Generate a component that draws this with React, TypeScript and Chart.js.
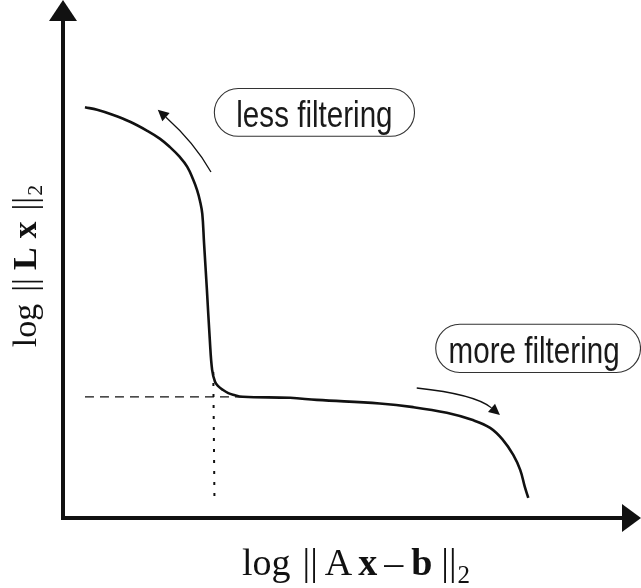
import React, { useEffect, useRef } from 'react';
import { Chart, registerables } from 'chart.js';

Chart.register(...registerables);

// L-curve values (arbitrary log units, axis 0..10)
const curveX = [0.38, 0.59, 0.87, 1.16, 1.45, 1.68, 1.85, 2.02, 2.15, 2.25, 2.32, 2.37, 2.41, 2.44, 2.49, 2.54, 2.58, 2.63, 2.68, 2.77, 2.86, 2.94, 3.11, 3.93, 4.39, 5.48, 6.06, 6.64, 7.09, 7.39, 7.61, 7.79, 7.91, 7.99, 8.05];
const curveY = [7.93, 7.88, 7.78, 7.65, 7.48, 7.32, 7.16, 6.97, 6.78, 6.54, 6.33, 6.12, 5.87, 5.31, 4.40, 3.44, 2.86, 2.63, 2.55, 2.47, 2.41, 2.38, 2.34, 2.32, 2.28, 2.21, 2.14, 2.03, 1.89, 1.74, 1.51, 1.22, 0.93, 0.60, 0.39];
// corner guide lines
const dashX = [0.38, 3.11];
const dashY = [2.34, 2.34];
const dotX = [2.6, 2.62];
const dotY = [2.82, 0.40];
// annotations
const labelTexts = ['less filtering', 'more filtering'];
const labelBoxX = [[2.61, 6.09], [6.44, 10.0]];
const labelBoxY = [[8.30, 7.36], [3.75, 2.80]];
// curved arrows: [start, control, tip]
const arrowX = [[2.56, 2.28, 1.64], [6.12, 7.13, 7.56]];
const arrowY = [[6.68, 7.24, 7.88], [2.51, 2.39, 1.99]];
const xAxisRange = [0, 10];
const yAxisRange = [0, 10];

type Seg = { t: string; font: string; gap: number; dy?: number };

const serif = '"Liberation Serif", "Times New Roman", serif';
const xLabelSegs: Seg[] = [
  { t: 'log', font: `38px ${serif}`, gap: 0 },
  { t: '||', font: `38px ${serif}`, gap: 12 },
  { t: 'A', font: `38px ${serif}`, gap: 7 },
  { t: 'x', font: `bold 38px ${serif}`, gap: 6 },
  { t: '\u2013', font: `38px ${serif}`, gap: 7 },
  { t: 'b', font: `bold 38px ${serif}`, gap: 8 },
  { t: '||', font: `38px ${serif}`, gap: 9 },
  { t: '2', font: `25px ${serif}`, gap: 1, dy: 8 },
];
const yLabelSegs: Seg[] = [
  { t: 'log', font: `34px ${serif}`, gap: 0 },
  { t: '||', font: `34px ${serif}`, gap: 12 },
  { t: 'L', font: `bold 34px ${serif}`, gap: 8 },
  { t: 'x', font: `bold 34px ${serif}`, gap: 9 },
  { t: '||', font: `34px ${serif}`, gap: 11 },
  { t: '2', font: `22px ${serif}`, gap: 1, dy: 6 },
];

function drawSegs(ctx: CanvasRenderingContext2D, segs: Seg[], cx: number, baseY: number) {
  let total = 0;
  const widths = segs.map((s) => {
    ctx.font = s.font;
    const w = ctx.measureText(s.t).width;
    total += w + s.gap;
    return w;
  });
  let x = cx - total / 2;
  ctx.textAlign = 'left';
  ctx.textBaseline = 'alphabetic';
  segs.forEach((s, i) => {
    x += s.gap;
    ctx.font = s.font;
    ctx.fillText(s.t, x, baseY + (s.dy || 0));
    x += widths[i];
  });
}

function roundRect(ctx: CanvasRenderingContext2D, x0: number, y0: number, x1: number, y1: number) {
  const r = (y1 - y0) / 2;
  ctx.beginPath();
  ctx.moveTo(x0 + r, y0);
  ctx.lineTo(x1 - r, y0);
  ctx.arc(x1 - r, y0 + r, r, -Math.PI / 2, Math.PI / 2);
  ctx.lineTo(x0 + r, y1);
  ctx.arc(x0 + r, y0 + r, r, Math.PI / 2, (3 * Math.PI) / 2);
  ctx.closePath();
}

const decorPlugin = {
  id: 'decor',
  afterDraw(chart: any) {
    const ctx: CanvasRenderingContext2D = chart.ctx;
    const xs = chart.scales.x;
    const ys = chart.scales.y;
    const px = (v: number) => xs.getPixelForValue(v);
    const py = (v: number) => ys.getPixelForValue(v);
    const ox = px(xAxisRange[0]);
    const oy = py(yAxisRange[0]);
    const topY = py(yAxisRange[1]);
    const rightX = px(xAxisRange[1]);
    ctx.save();
    // axes
    ctx.strokeStyle = '#111';
    ctx.fillStyle = '#111';
    ctx.lineWidth = 4;
    ctx.beginPath();
    ctx.moveTo(ox, oy + 2);
    ctx.lineTo(ox, topY + 18);
    ctx.moveTo(ox - 2, oy);
    ctx.lineTo(rightX - 16, oy);
    ctx.stroke();
    ctx.beginPath();
    ctx.moveTo(ox, topY);
    ctx.lineTo(ox - 14, topY + 21);
    ctx.lineTo(ox + 14, topY + 21);
    ctx.closePath();
    ctx.fill();
    ctx.beginPath();
    ctx.moveTo(rightX, oy);
    ctx.lineTo(rightX - 19, oy - 14);
    ctx.lineTo(rightX - 19, oy + 14);
    ctx.closePath();
    ctx.fill();

    // curved arrows
    ctx.lineWidth = 1.3;
    for (let i = 0; i < arrowX.length; i++) {
      const p0 = [px(arrowX[i][0]), py(arrowY[i][0])];
      const c = [px(arrowX[i][1]), py(arrowY[i][1])];
      const p2 = [px(arrowX[i][2]), py(arrowY[i][2])];
      const ang = Math.atan2(p2[1] - c[1], p2[0] - c[0]);
      const hl = 11;
      const hw = 5.5;
      const bx = p2[0] - hl * Math.cos(ang);
      const by = p2[1] - hl * Math.sin(ang);
      ctx.beginPath();
      ctx.moveTo(p0[0], p0[1]);
      ctx.quadraticCurveTo(c[0], c[1], bx, by);
      ctx.stroke();
      ctx.beginPath();
      ctx.moveTo(p2[0], p2[1]);
      ctx.lineTo(bx + hw * Math.sin(ang), by - hw * Math.cos(ang));
      ctx.lineTo(bx - hw * Math.sin(ang), by + hw * Math.cos(ang));
      ctx.closePath();
      ctx.fill();
    }

    // label boxes
    for (let i = 0; i < labelTexts.length; i++) {
      const x0 = px(labelBoxX[i][0]);
      const x1 = px(labelBoxX[i][1]);
      const y0 = py(labelBoxY[i][0]);
      const y1 = py(labelBoxY[i][1]);
      roundRect(ctx, x0 + 0.5, y0 + 0.5, x1 - 0.5, y1 - 0.5);
      ctx.strokeStyle = '#333';
      ctx.lineWidth = 1.1;
      ctx.stroke();
      ctx.save();
      ctx.fillStyle = '#1a1a1a';
      ctx.font = '37px "Liberation Sans", Arial, sans-serif';
      ctx.textAlign = 'center';
      ctx.textBaseline = 'alphabetic';
      const cx = (x0 + x1) / 2 + (i === 1 ? -4 : 0);
      const base = y1 - 10;
      ctx.translate(cx, base);
      ctx.scale(0.8, 1);
      ctx.fillText(labelTexts[i], 0, 0);
      ctx.restore();
    }

    // axis titles
    ctx.fillStyle = '#111';
    drawSegs(ctx, xLabelSegs, (ox + rightX) / 2 + 4, oy + 57);
    ctx.save();
    ctx.translate(ox - 27, topY + 266);
    ctx.rotate(-Math.PI / 2);
    drawSegs(ctx, yLabelSegs, 0, 0);
    ctx.restore();
    ctx.restore();
  },
};

export default function App() {
  const ref = useRef<HTMLCanvasElement>(null);
  useEffect(() => {
    if (!ref.current) return;
    const chart = new Chart(ref.current, {
      type: 'scatter',
      data: {
        datasets: [
          {
            data: curveX.map((x, i) => ({ x, y: curveY[i] })),
            showLine: true,
            borderColor: '#111',
            borderWidth: 2.6,
            pointRadius: 0,
            tension: 0.4,
          },
          {
            data: dashX.map((x, i) => ({ x, y: dashY[i] })),
            showLine: true,
            borderColor: '#111',
            borderWidth: 1.2,
            borderDash: [9, 6],
            pointRadius: 0,
          },
          {
            data: dotX.map((x, i) => ({ x, y: dotY[i] })),
            showLine: true,
            borderColor: '#111',
            borderWidth: 2,
            borderDash: [3, 8],
            pointRadius: 0,
          },
        ],
      },
      options: {
        animation: false,
        responsive: false,
        layout: { padding: { left: 63, right: 0, top: 0, bottom: 70 } },
        plugins: { legend: { display: false }, tooltip: { enabled: false } },
        scales: {
          x: { type: 'linear', min: xAxisRange[0], max: xAxisRange[1], display: false },
          y: { type: 'linear', min: yAxisRange[0], max: yAxisRange[1], display: false },
        },
      },
      plugins: [decorPlugin],
    } as any);
    return () => chart.destroy();
  }, []);
  return (
    <div style={{ position: 'absolute', left: 0, top: 0, width: 641, height: 588, background: '#fff' }}>
      <canvas ref={ref} width={641} height={588} />
    </div>
  );
}
